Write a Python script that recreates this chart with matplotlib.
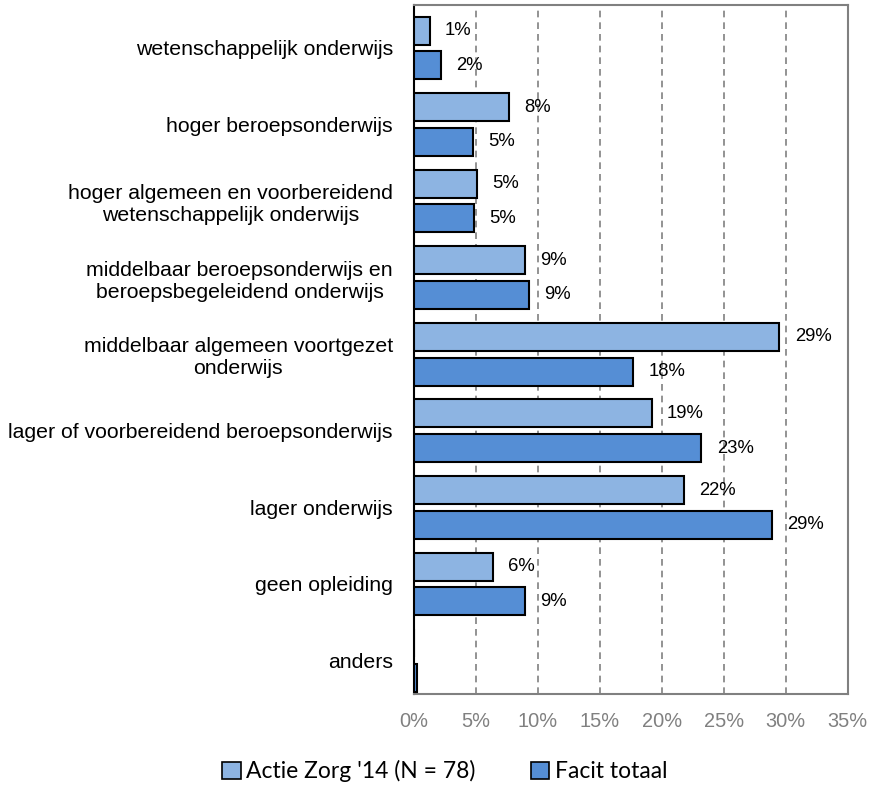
import matplotlib.pyplot as plt
import numpy as np
from matplotlib.patches import Patch

categories = [
    'wetenschappelijk onderwijs',
    'hoger beroepsonderwijs',
    'hoger algemeen en voorbereidend\nwetenschappelijk onderwijs',
    'middelbaar beroepsonderwijs en\nberoepsbegeleidend onderwijs',
    'middelbaar algemeen voortgezet\nonderwijs',
    'lager of voorbereidend beroepsonderwijs',
    'lager onderwijs',
    'geen opleiding',
    'anders',
]
actie_zorg = [1.3, 7.7, 5.1, 9.0, 29.5, 19.2, 21.8, 6.4, 0.0]
facit = [2.2, 4.8, 4.9, 9.3, 17.7, 23.2, 28.9, 9.0, 0.3]
actie_labels = ['1%', '8%', '5%', '9%', '29%', '19%', '22%', '6%', '']
facit_labels = ['2%', '5%', '5%', '9%', '18%', '23%', '29%', '9%', '']
series_names = ["Actie Zorg '14 (N = 78)", 'Facit totaal']
colors = ['#8DB4E2', '#558ED5']

plt.rcParams['font.family'] = ['Liberation Sans', 'DejaVu Sans']

fig = plt.figure(figsize=(8.69, 7.87), dpi=100)
ax = fig.add_axes([0.476, 0.118, 0.4995, 0.8755])

y = np.arange(len(categories))
h = 0.366
off = 0.226
b1 = ax.barh(y - off, actie_zorg, height=h, color=colors[0], edgecolor='black', linewidth=1.5, zorder=3)
b2 = ax.barh(y + off, facit, height=h, color=colors[1], edgecolor='black', linewidth=1.5, zorder=3)

for bars, labels in [(b1, actie_labels), (b2, facit_labels)]:
    for bar, lab in zip(bars, labels):
        if lab:
            ax.annotate(lab, (bar.get_width(), bar.get_y() + bar.get_height() / 2),
                        xytext=(11, 0), textcoords='offset points', va='center', ha='left',
                        fontsize=13.3, color='black', zorder=4)

ax.set_xlim(0, 35)
ax.set_ylim(8.44, -0.56)
ax.set_xticks(np.arange(0, 36, 5))
ax.set_xticklabels([f'{v}%' for v in range(0, 36, 5)], fontsize=14.4, color='#808080')
ax.set_yticks(y)
ax.set_yticklabels(categories, fontsize=15.3, ha='right', multialignment='center')
ax.tick_params(axis='y', length=0, pad=15)
ax.tick_params(axis='x', length=0, pad=13)
ax.xaxis.grid(True, linestyle='--', color='#808080', linewidth=1.2, dashes=(4, 3))
ax.set_axisbelow(True)
for s in ['top', 'right', 'bottom']:
    ax.spines[s].set_color('#808080')
    ax.spines[s].set_linewidth(1.5)
ax.spines['left'].set_color('black')
ax.spines['left'].set_linewidth(1.5)

handles = [Patch(facecolor=c, edgecolor='black', linewidth=1.2) for c in colors]
fig.legend(handles, series_names, loc='center', bbox_to_anchor=(0.512, 0.02),
           ncol=2, frameon=False, prop={'family': 'Lato', 'size': 16.5},
           handlelength=0.8, handleheight=0.8, handletextpad=0.25, columnspacing=2.4)

fig.savefig('out.png', dpi=100)
